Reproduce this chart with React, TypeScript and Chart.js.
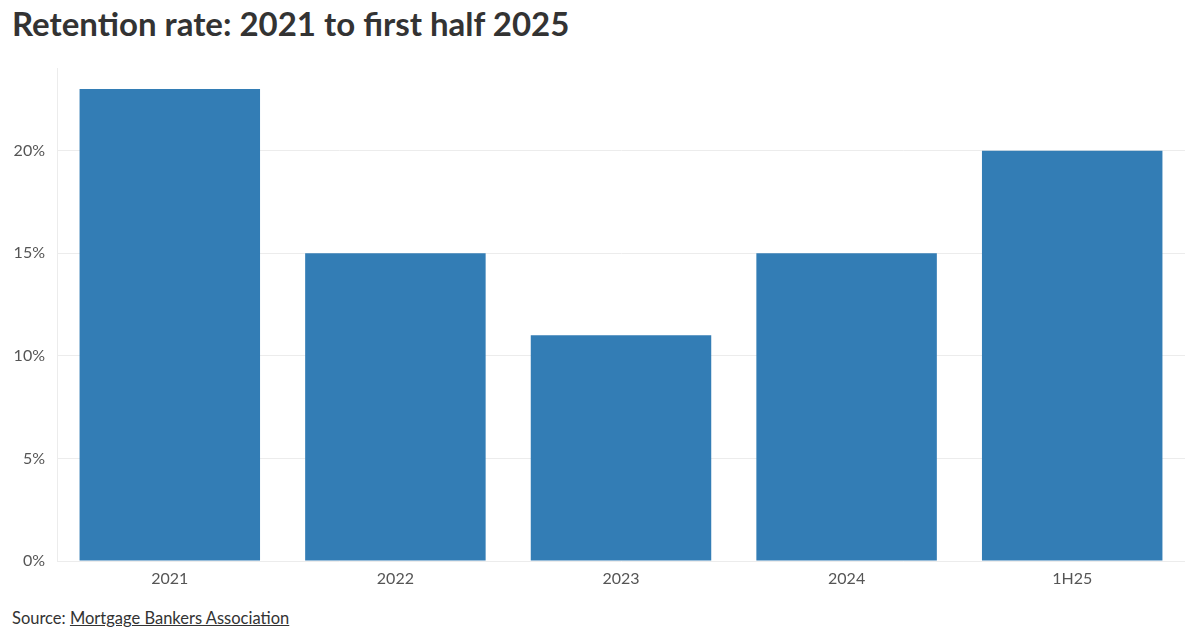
import React, { useEffect, useRef } from "react";
import { Chart, registerables } from "chart.js";

Chart.register(...registerables);

const categories = ["2021", "2022", "2023", "2024", "1H25"];
const retentionRate = [23, 15, 11, 15, 20];
const yTicks = [0, 5, 10, 15, 20];

const TITLE = "Retention rate: 2021 to first half 2025";

export default function App() {
  const ref = useRef<HTMLCanvasElement | null>(null);

  useEffect(() => {
    document.body.style.margin = "0";
    const ctx = ref.current!.getContext("2d")!;
    const chart = new Chart(ctx, {
      type: "bar",
      data: {
        labels: categories,
        datasets: [
          {
            data: retentionRate,
            backgroundColor: "#337db5",
            borderWidth: 0,
            barPercentage: 0.8,
            categoryPercentage: 1.0,
          },
        ],
      },
      options: {
        responsive: false,
        animation: false,
        maintainAspectRatio: false,
        layout: { padding: { top: 7, right: 15, left: 0, bottom: 0 } },
        plugins: { legend: { display: false }, tooltip: { enabled: false } },
        scales: {
          x: {
            grid: { display: false },
            border: { display: false },
            ticks: {
              color: "#555",
              font: { family: "Lato", size: 16 },
              padding: 0,
            },
            afterFit: (s: any) => {
              s.height = 39;
            },
          },
          y: {
            min: 0,
            max: 24,
            afterBuildTicks: (s: any) => {
              s.ticks = yTicks.map((v) => ({ value: v }));
            },
            grid: { color: "#ececec", lineWidth: 1, drawTicks: false },
            border: { display: true, color: "#ececec" },
            ticks: {
              color: "#555",
              font: { family: "Lato", size: 16 },
              padding: 12,
              callback: (v: any) => `${v}%`,
            },
            afterFit: (s: any) => {
              s.width = 57;
            },
          },
        },
      },
    });
    return () => chart.destroy();
  }, []);

  return (
    <div
      style={{
        position: "relative",
        width: 1200,
        height: 630,
        background: "#fff",
        fontFamily: "Lato, sans-serif",
        overflow: "hidden",
      }}
    >
      <div
        style={{
          position: "absolute",
          left: 12,
          top: 3,
          fontSize: 33,
          fontWeight: 700,
          color: "#333",
          lineHeight: "40px",
          whiteSpace: "nowrap",
        }}
      >
        {TITLE}
      </div>
      <canvas
        ref={ref}
        width={1200}
        height={553}
        style={{ position: "absolute", left: 0, top: 47, width: 1200, height: 553 }}
      />
      <div
        style={{
          position: "absolute",
          left: 12,
          top: 607,
          fontSize: 16.5,
          color: "#333",
          lineHeight: "22px",
          whiteSpace: "nowrap",
        }}
      >
        Source: <span style={{ textDecoration: "underline" }}>Mortgage Bankers Association</span>
      </div>
    </div>
  );
}
